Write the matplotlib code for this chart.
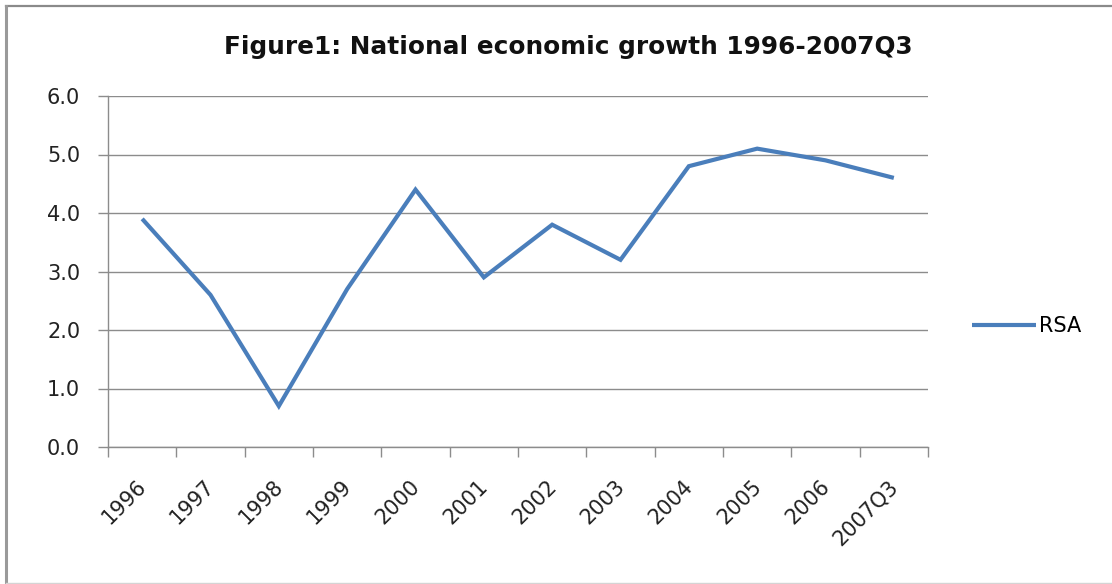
import matplotlib
matplotlib.use("Agg")
import matplotlib.pyplot as plt
from matplotlib.lines import Line2D
from matplotlib.transforms import ScaledTranslation

# Annual real GDP growth, South Africa (%)
years = ["1996", "1997", "1998", "1999", "2000", "2001", "2002", "2003",
         "2004", "2005", "2006", "2007Q3"]
growth = [3.9, 2.6, 0.7, 2.7, 4.4, 2.9, 3.8, 3.2, 4.8, 5.1, 4.9, 4.6]
y_ticks = [0.0, 1.0, 2.0, 3.0, 4.0, 5.0, 6.0]

plt.rcParams['font.family'] = ['DejaVu Sans']

W, H = 1112, 584
fig = plt.figure(figsize=(W / 100, H / 100), dpi=100)
ax = fig.add_axes([108 / W, 1 - 447 / H, 820 / W, 351 / H])

x = list(range(len(years)))
line, = ax.plot(x, growth, color='#4A7EBB', lw=3.0, solid_joinstyle='miter',
                solid_capstyle='butt', label='RSA')

ax.set_xlim(-0.5, len(years) - 0.5)
ax.set_ylim(0, 6)
ax.set_yticks(y_ticks)
ax.set_yticklabels([f"{v:.1f}" for v in y_ticks], fontsize=15, color='#222222')
ax.yaxis.grid(True, color='#8c8c8c', lw=1.0)
ax.set_axisbelow(True)

# category boundaries carry the tick marks, labels sit at the centres
ax.set_xticks([i - 0.5 for i in range(len(years) + 1)])
ax.set_xticklabels([])
ax.set_xticks(x, minor=True)
ax.set_xticklabels(years, minor=True, rotation=45, ha='right',
                   rotation_mode='anchor', fontsize=15, color='#222222')
ax.tick_params(axis='x', which='minor', length=0, pad=21)
ax.tick_params(axis='x', which='major', length=7, color='#8c8c8c', width=1)
ax.tick_params(axis='y', length=7, color='#8c8c8c', width=1, pad=13)
shift = ScaledTranslation(-6 / 100, 0, fig.dpi_scale_trans)
for lab in ax.get_xticklabels(minor=True):
    lab.set_transform(lab.get_transform() + shift)

for s in ['top', 'right']:
    ax.spines[s].set_visible(False)
for s in ['left', 'bottom']:
    ax.spines[s].set_color('#8c8c8c')
    ax.spines[s].set_linewidth(1.0)

fig.text(568 / W, 1 - 47 / H, "Figure1: National economic growth 1996-2007Q3",
         ha='center', va='center', fontsize=17.8, fontweight='bold', color='#111111')

fig.legend(handles=[line], loc='center left', bbox_to_anchor=(953 / W, 1 - 326 / H),
           frameon=False, fontsize=15, handlelength=3.1, handletextpad=0.15)

# chart frame: top and left edges darker, faint bottom edge
fig.add_artist(Line2D([5.5 / W, 1], [1 - 6 / H, 1 - 6 / H], transform=fig.transFigure,
                      color='#8a8a8a', lw=1.6))
fig.add_artist(Line2D([5.5 / W, 5.5 / W], [1 - 6 / H, 1 - 583 / H], transform=fig.transFigure,
                      color='#9a9a9a', lw=2.2))
fig.add_artist(Line2D([5.5 / W, 1], [1 - 583 / H, 1 - 583 / H], transform=fig.transFigure,
                      color='#d4d4d4', lw=1.0))

fig.savefig("out.png", dpi=100)
